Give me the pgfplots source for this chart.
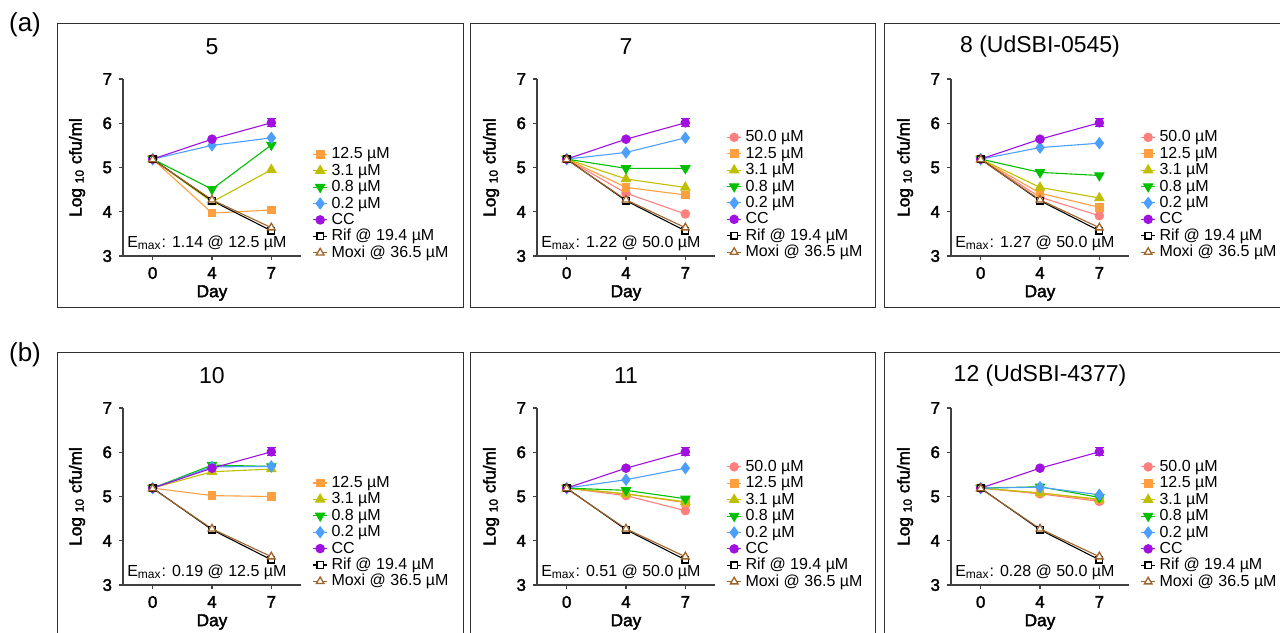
\documentclass[border=0pt]{standalone}
\usepackage{fontspec}
\setmainfont{Liberation Sans}
\newfontfamily\boldsans{Liberation Sans}[FakeBold=2.2]
\usepackage{pgfplots}
\usepackage{pgfplotstable}
\pgfplotsset{compat=1.18}

\definecolor{c50}{HTML}{FF7F7F}
\definecolor{c125}{HTML}{FF9F40}
\definecolor{c31}{HTML}{BFBF00}
\definecolor{c08}{HTML}{00C000}
\definecolor{c02}{HTML}{4D9FFF}
\definecolor{ccc}{HTML}{A010E0}
\definecolor{moxi}{HTML}{A0642A}
\definecolor{boxc}{HTML}{303030}

% one table per panel; days 0, 4, 7 are drawn evenly spaced (pos 0, 1, 2)
\pgfplotstableread{
pos day c125 c31 c08 c02 cc cce rif moxi
0 0 5.19 5.19 5.19 5.19 5.19 0.02 5.19 5.18
1 4 3.97 4.22 4.51 5.50 5.64 0.03 4.25 4.27
2 7 4.04 4.95 5.51 5.67 6.01 0.09 3.57 3.64
}\tabA
\pgfplotstableread{
pos day c50 c125 c31 c08 c02 cc cce rif moxi
0 0 5.19 5.19 5.19 5.19 5.19 5.19 0.02 5.19 5.18
1 4 4.42 4.55 4.74 4.98 5.34 5.64 0.03 4.25 4.27
2 7 3.95 4.38 4.55 4.98 5.67 6.01 0.09 3.57 3.64
}\tabB
\pgfplotstableread{
pos day c50 c125 c31 c08 c02 cc cce rif moxi
0 0 5.19 5.19 5.19 5.19 5.19 5.19 0.02 5.19 5.18
1 4 4.33 4.42 4.55 4.89 5.45 5.64 0.03 4.25 4.27
2 7 3.91 4.10 4.31 4.82 5.55 6.01 0.09 3.57 3.64
}\tabC
\pgfplotstableread{
pos day c125 c31 c08 c02 cc cce rif moxi
0 0 5.19 5.19 5.19 5.19 5.19 0.02 5.19 5.18
1 4 5.02 5.56 5.71 5.67 5.64 0.03 4.25 4.27
2 7 5.00 5.62 5.68 5.68 6.01 0.09 3.57 3.64
}\tabD
\pgfplotstableread{
pos day c50 c125 c31 c08 c02 cc cce rif moxi
0 0 5.19 5.19 5.19 5.19 5.19 5.19 0.02 5.19 5.18
1 4 5.02 5.06 5.06 5.14 5.38 5.64 0.03 4.25 4.27
2 7 4.68 4.86 4.88 4.95 5.64 6.01 0.09 3.57 3.64
}\tabE
\pgfplotstableread{
pos day c50 c125 c31 c08 c02 cc cce rif moxi
0 0 5.19 5.19 5.19 5.19 5.19 5.19 0.02 5.19 5.18
1 4 5.06 5.08 5.08 5.22 5.21 5.64 0.03 4.25 4.27
2 7 4.89 4.92 4.94 4.98 5.04 6.01 0.09 3.57 3.64
}\tabF

\pgfplotsset{
  panel/.style={
    scale only axis, width=89pt, height=88.5pt,
    xmin=-0.5, xmax=2.5, ymin=3, ymax=7,
    axis x line*=bottom, axis y line*=left,
    axis line style={line width=0.7pt, black!75},
    xtick={0,1,2}, xticklabels={0,4,7}, ytick={3,4,5,6,7},
    tick align=outside, major tick length=2pt,
    every tick/.style={black!75, line width=0.7pt},
    ticklabel style={font=\boldsans\fontsize{8.4}{9}\selectfont},
    /pgf/number format/assume math mode=true,
    xlabel={Day}, ylabel={Log \textsubscript{10} cfu/ml},
    every axis x label/.style={at={(axis description cs:0.5,-0.209)}, anchor=center,
      font=\boldsans\fontsize{8.6}{9}\selectfont},
    every axis y label/.style={at={(axis description cs:-0.258,0.5)}, rotate=90, anchor=center,
      font=\boldsans\fontsize{8.6}{9}\selectfont},
    every axis title/.style={at={(axis description cs:0.5,1.181)}, anchor=center,
      font=\fontsize{11.5}{13}\selectfont},
    legend style={draw=none, fill=none, anchor=north west,
      font=\fontsize{8}{9}\selectfont, inner sep=0pt, row sep=0pt, column sep=1.5pt,
      nodes={inner sep=0.4pt, text height=6pt, text depth=1.4pt}},
    legend cell align=left,
    legend image code/.code={\draw[mark repeat=2,mark phase=2] plot coordinates {(0pt,0pt)(3.5pt,0pt)(7pt,0pt)};},
    clip=false,
  },
  s50/.style={color=c50, line width=0.55pt, mark=*, mark size=2.1pt, mark options={solid, fill=c50}},
  s125/.style={color=c125, line width=0.55pt, mark=square*, mark size=1.9pt, mark options={solid, fill=c125}},
  s31/.style={color=c31, line width=0.55pt, mark=triangle*, mark size=2.6pt, mark options={solid, fill=c31}},
  s08/.style={color=c08, line width=0.55pt, mark=triangle*, mark size=2.6pt, mark options={solid, fill=c08, rotate=180}},
  s02/.style={color=c02, line width=0.55pt, mark=diamond*, mark size=2.7pt, mark options={solid, fill=c02}},
  scc/.style={color=ccc, line width=0.55pt, mark=*, mark size=2.1pt, mark options={solid, fill=ccc}},
  srif/.style={color=black, line width=0.55pt, mark=square*, mark size=1.6pt, mark options={solid, fill=white, line width=0.65pt}},
  smoxi/.style={color=moxi, line width=0.55pt, mark=triangle*, mark size=2.2pt, mark options={solid, fill=white, line width=0.65pt}},
}

\newcommand{\mainseries}[1]{%
  \addplot[s125] table[x=pos,y=c125]{#1}; \addlegendentry{12.5 µM}
  \addplot[s31] table[x=pos,y=c31]{#1}; \addlegendentry{3.1 µM}
  \addplot[s08] table[x=pos,y=c08]{#1}; \addlegendentry{0.8 µM}
  \addplot[s02] table[x=pos,y=c02]{#1}; \addlegendentry{0.2 µM}
  \addplot[scc, error bars/.cd, y dir=both, y explicit] table[x=pos,y=cc,y error=cce]{#1}; \addlegendentry{CC}
  \addplot[srif] table[x=pos,y=rif]{#1}; \addlegendentry{Rif @ 19.4 µM}
  \addplot[smoxi] table[x=pos,y=moxi]{#1}; \addlegendentry{Moxi @ 36.5 µM}
}
\newcommand{\emax}[1]{\node[anchor=west, inner sep=0pt, font=\fontsize{8}{9}\selectfont] at (axis description cs:0.022,0.073) {E\textsubscript{max}: #1};}

\begin{document}
\begin{tikzpicture}
% panel frames
\draw[boxc, line width=0.5pt] (28.5pt,-11.5pt) rectangle (231.5pt,-153.5pt);
\draw[boxc, line width=0.5pt] (235pt,-11.5pt) rectangle (437.5pt,-153.5pt);
\draw[boxc, line width=0.5pt] (442pt,-11.5pt) rectangle (650pt,-153.5pt);
\draw[boxc, line width=0.5pt] (28.5pt,-176pt) rectangle (231.5pt,-330pt);
\draw[boxc, line width=0.5pt] (235pt,-176pt) rectangle (437.5pt,-330pt);
\draw[boxc, line width=0.5pt] (442pt,-176pt) rectangle (650pt,-330pt);
\node[font=\fontsize{13}{15}\selectfont] at (12.5pt,-12.5pt) {(a)};
\node[font=\fontsize{13}{15}\selectfont] at (12.5pt,-177.5pt) {(b)};

\begin{axis}[panel, at={(61.5pt,-128pt)}, anchor=south west, title={5},
  legend style={at={(axis description cs:1.063,0.623)}}]
\mainseries{\tabA}
\emax{1.14 @ 12.5 µM}
\end{axis}

\begin{axis}[panel, at={(268.5pt,-128pt)}, anchor=south west, title={7},
  legend style={at={(axis description cs:1.063,0.719)}}]
\addplot[s50] table[x=pos,y=c50]{\tabB}; \addlegendentry{50.0 µM}
\mainseries{\tabB}
\emax{1.22 @ 50.0 µM}
\end{axis}

\begin{axis}[panel, at={(475.5pt,-128pt)}, anchor=south west, title={8 (UdSBI-0545)},
  legend style={at={(axis description cs:1.063,0.719)}}]
\addplot[s50] table[x=pos,y=c50]{\tabC}; \addlegendentry{50.0 µM}
\mainseries{\tabC}
\emax{1.27 @ 50.0 µM}
\end{axis}

\begin{axis}[panel, at={(61.5pt,-292.5pt)}, anchor=south west, title={10},
  legend style={at={(axis description cs:1.063,0.625)}}]
\mainseries{\tabD}
\emax{0.19 @ 12.5 µM}
\end{axis}

\begin{axis}[panel, at={(268.5pt,-292.5pt)}, anchor=south west, title={11},
  legend style={at={(axis description cs:1.063,0.716)}}]
\addplot[s50] table[x=pos,y=c50]{\tabE}; \addlegendentry{50.0 µM}
\mainseries{\tabE}
\emax{0.51 @ 50.0 µM}
\end{axis}

\begin{axis}[panel, at={(475.5pt,-292.5pt)}, anchor=south west, title={12 (UdSBI-4377)},
  legend style={at={(axis description cs:1.063,0.716)}}]
\addplot[s50] table[x=pos,y=c50]{\tabF}; \addlegendentry{50.0 µM}
\mainseries{\tabF}
\emax{0.28 @ 50.0 µM}
\end{axis}

\pgfresetboundingbox
\path[use as bounding box] (0pt,0pt) rectangle (640pt,-316pt);
\end{tikzpicture}
\end{document}
